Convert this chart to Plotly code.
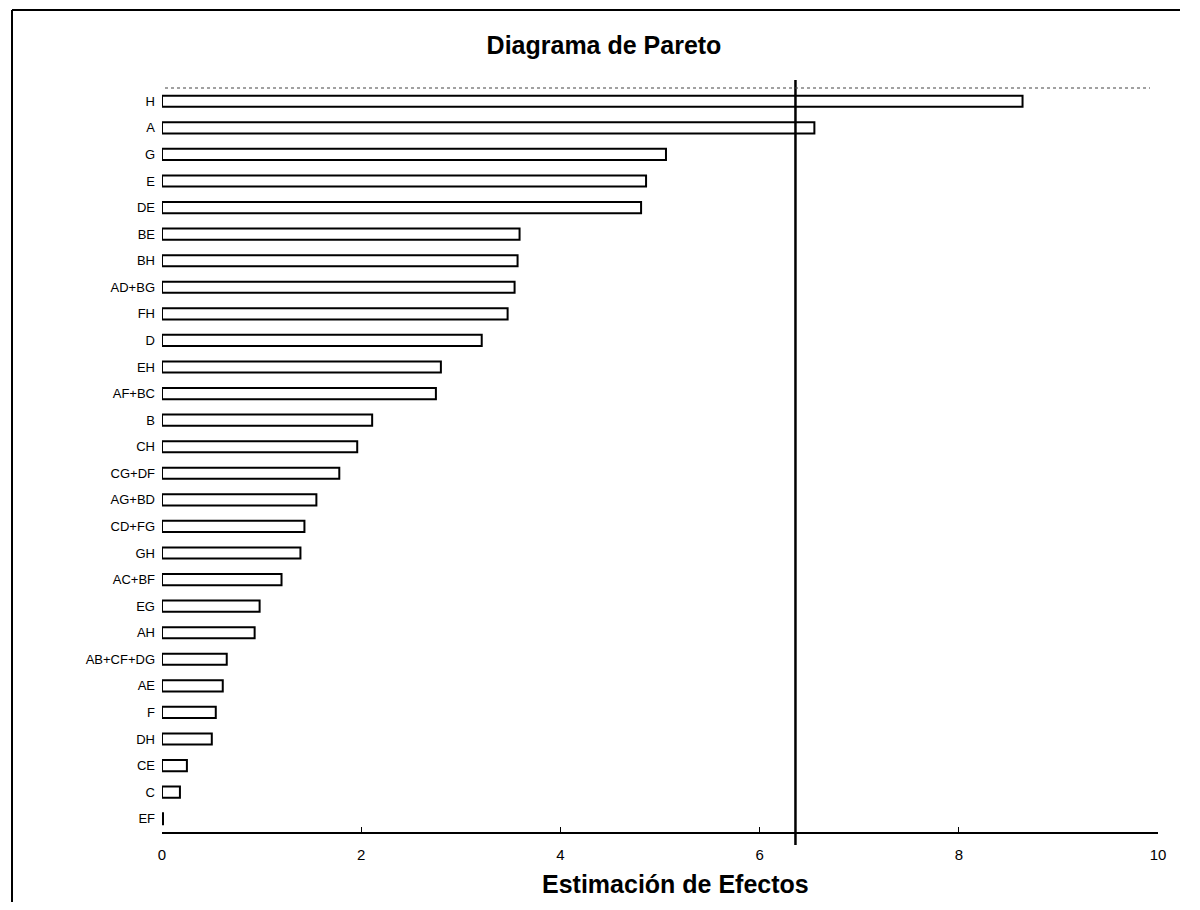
import plotly.graph_objects as go

effects = ["H", "A", "G", "E", "DE", "BE", "BH", "AD+BG", "FH", "D", "EH", "AF+BC",
           "B", "CH", "CG+DF", "AG+BD", "CD+FG", "GH", "AC+BF", "EG", "AH",
           "AB+CF+DG", "AE", "F", "DH", "CE", "C", "EF"]
estimates = [8.64, 6.55, 5.06, 4.86, 4.81, 3.59, 3.57, 3.54, 3.47, 3.21, 2.80, 2.75,
             2.11, 1.96, 1.78, 1.55, 1.43, 1.39, 1.20, 0.98, 0.93,
             0.65, 0.61, 0.54, 0.50, 0.25, 0.18, 0.01]
critical_value = 6.36
x_ticks = [0, 2, 4, 6, 8, 10]

OFF = 8  # default page body margin (each side)
W, H = 1200 - 2 * OFF - 4, 910 - 2 * OFF
ML, MT = 162 - OFF, 88 - OFF
MR = W - (1158 - OFF)
MB = H - (832 - OFF)
PW, PH = W - ML - MR, H - MT - MB

def px_x(px):  # page pixel -> paper x
    return (px - OFF - ML) / PW

def px_y(py):  # page pixel -> paper y
    return (H - MB - (py - OFF)) / PH

fig = go.Figure()
fig.add_trace(go.Bar(
    x=estimates, y=effects, orientation="h",
    marker=dict(color="white", line=dict(color="black", width=2)),
    width=0.42, showlegend=False,
))

shapes = [
    dict(type="line", xref="x", yref="paper", x0=critical_value, x1=critical_value,
         y0=px_y(845), y1=px_y(80), line=dict(color="black", width=2.5)),
    dict(type="line", xref="paper", yref="paper", x0=px_x(165), x1=px_x(1150),
         y0=px_y(88), y1=px_y(88), line=dict(color="#444444", width=1.2, dash="dot")),
    dict(type="line", xref="paper", yref="paper", x0=px_x(12), x1=px_x(12),
         y0=px_y(902), y1=px_y(10), line=dict(color="black", width=2)),
    dict(type="line", xref="paper", yref="paper", x0=px_x(12), x1=px_x(1180),
         y0=px_y(10), y1=px_y(10), line=dict(color="black", width=2)),
]

annotations = [
    dict(text="<b>Estimación de Efectos</b>", xref="paper", yref="paper",
         x=px_x(675), y=px_y(884), xanchor="center", yanchor="middle",
         showarrow=False, font=dict(size=25, color="black")),
]

fig.update_layout(
    width=W, height=H,
    margin=dict(l=ML, r=MR, t=MT, b=MB),
    paper_bgcolor="white", plot_bgcolor="white",
    font=dict(family="Liberation Sans, Arial, sans-serif", color="black"),
    title=dict(text="<b>Diagrama de Pareto</b>", x=(604 - OFF) / W,
               xanchor="center", y=1 - (45 - OFF) / H, yanchor="middle",
               font=dict(size=25, color="black")),
    shapes=shapes,
    annotations=annotations,
    bargap=0.58,
)
fig.update_xaxes(
    range=[0, 10], tickvals=x_ticks, ticktext=[str(t) for t in x_ticks],
    showgrid=False, zeroline=False, showline=True, linecolor="black", linewidth=1.5,
    ticks="inside", ticklen=5, tickcolor="black",
    tickfont=dict(size=15, color="black"), ticklabelstandoff=8,
)
fig.update_yaxes(
    categoryorder="array", categoryarray=effects, autorange="reversed",
    showgrid=False, zeroline=False, showline=False, ticks="",
    tickfont=dict(size=13, color="black"), ticklabelstandoff=6,
)

fig.write_html("out.html")
